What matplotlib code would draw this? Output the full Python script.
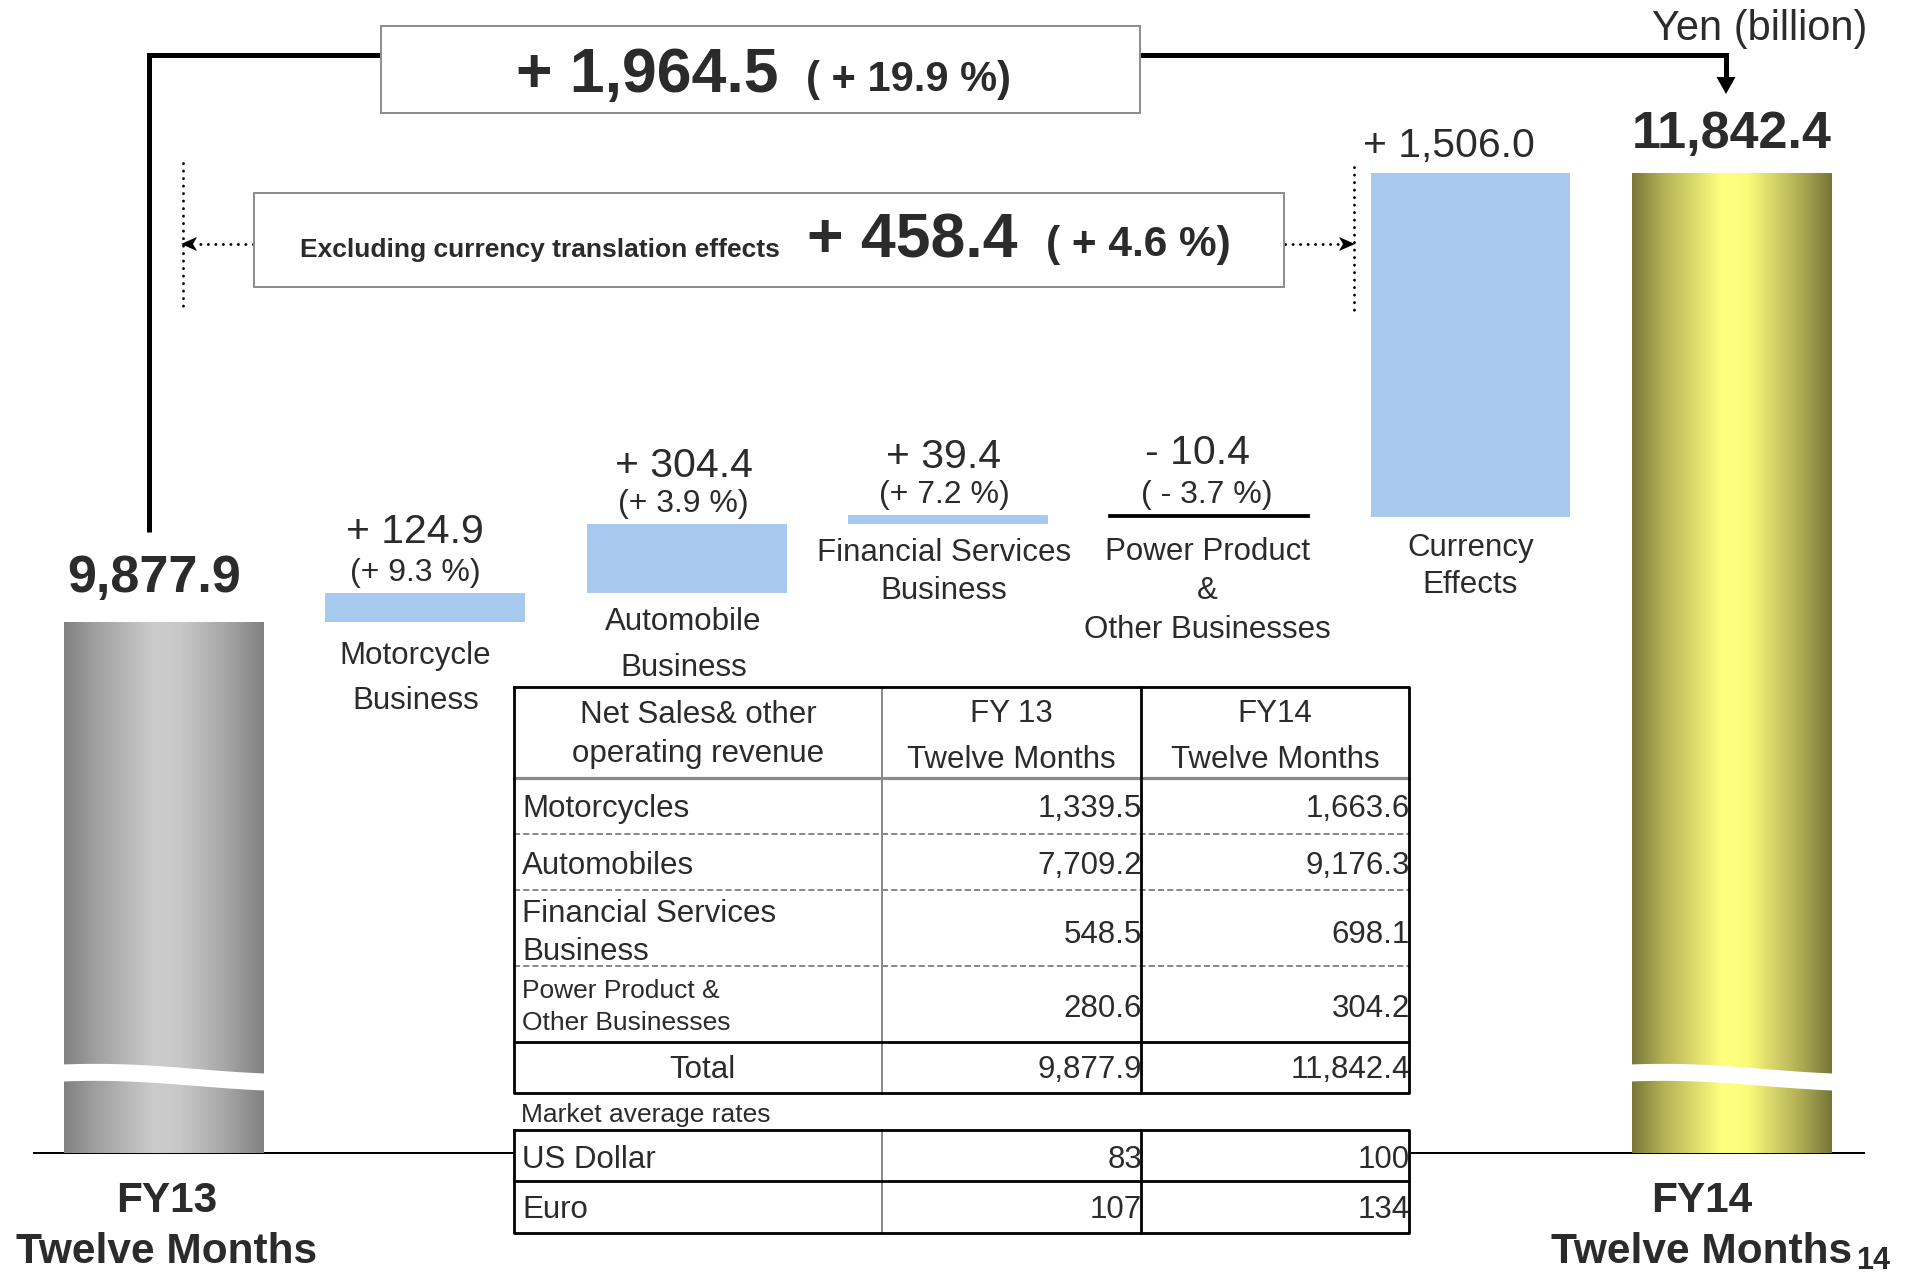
import numpy as np
import matplotlib
matplotlib.use('Agg')
import matplotlib.pyplot as plt
from matplotlib.patches import Rectangle, Polygon

plt.rcParams['font.family'] = ['Liberation Sans', 'DejaVu Sans']

# ---------------- data ----------------
fy13_total = 9877.9
fy14_total = 11842.4
delta_labels = [['Motorcycle', 'Business'],
                ['Automobile', 'Business'],
                ['Financial Services', 'Business'],
                ['Power Product', '&', 'Other Businesses'],
                ['Currency', 'Effects']]
delta_values = [124.9, 304.4, 39.4, -10.4, 1506.0]
delta_pcts = [9.3, 3.9, 7.2, -3.7, None]
total_change = 1964.5
total_change_pct = 19.9
ex_currency_change = 458.4
ex_currency_pct = 4.6

table_header = ['Net Sales& other\noperating revenue', 'FY 13\nTwelve Months', 'FY14\nTwelve Months']
table_segments = ['Motorcycles', 'Automobiles', 'Financial Services\nBusiness',
                  'Power Product &\nOther Businesses']
table_fy13 = [1339.5, 7709.2, 548.5, 280.6]
table_fy14 = [1663.6, 9176.3, 698.1, 304.2]
rate_names = ['US Dollar', 'Euro']
rate_fy13 = [83, 107]
rate_fy14 = [100, 134]

# ---------------- layout / style ----------------
W, H = 1910, 1275
TXT = '#2b2b2b'
BLUE = '#a7c9f0'
BOXEDGE = '#8e8e8e'
PT = 72.0 / 100.0      # points per pixel

BASE_PX = 1152.7       # pixel row of the baseline
PX_PER_B = 0.22855     # pixels per billion yen
AXIS_FLOOR = 7556.0    # value at the (broken) baseline
XC0, XSTEP = 164.0, 261.3
BAR_W = 0.765

fig = plt.figure(figsize=(W / 100, H / 100), dpi=100)
ax = fig.add_axes([0, 0, 1, 1])
ax.set_axis_off()
XLIM = (-XC0 / XSTEP, (W - XC0) / XSTEP)
YLIM = (AXIS_FLOOR - (H - BASE_PX) / PX_PER_B, AXIS_FLOOR + BASE_PX / PX_PER_B)
ax.set_xlim(*XLIM)
ax.set_ylim(*YLIM)


def v2py(v):
    return BASE_PX - (v - AXIS_FLOOR) * PX_PER_B


def py2v(py):
    return AXIS_FLOOR + (BASE_PX - py) / PX_PER_B


def P(x, y):
    return x / W, 1 - y / H


def pline(xs, ys, **kw):
    ax.plot([x / W for x in xs], [1 - y / H for y in ys], transform=ax.transAxes,
            clip_on=False, **kw)


def ptext(x, y, s, **kw):
    kw.setdefault('color', TXT)
    ax.text(x / W, 1 - y / H, s, transform=ax.transAxes, **kw)


def prect(x0, y0, x1, y1, **kw):
    r = Rectangle(P(x0, y1), (x1 - x0) / W, (y1 - y0) / H, transform=ax.transAxes,
                  clip_on=False, **kw)
    ax.add_patch(r)


def ppoly(pts, **kw):
    ax.add_patch(Polygon([P(x, y) for x, y in pts], closed=True, transform=ax.transAxes,
                         clip_on=False, **kw))


def fmt_signed(v):
    return ('+ ' if v >= 0 else '- ') + f'{abs(v):,.1f}'


# ---------------- waterfall bars ----------------
levels = [fy13_total]
for d in delta_values:
    levels.append(levels[-1] + d)
bottoms = levels[:-1]

gray_stops = ([0, 0.15, 0.45, 0.58, 0.82, 1.0],
              [(0x80,) * 3, (0x9e,) * 3, (0xcc,) * 3, (0xc8,) * 3, (0xa4,) * 3, (0x80,) * 3])
yellow_stops = ([0, 0.15, 0.45, 0.58, 0.84, 1.0],
                [(0x78, 0x77, 0x3a), (0xb2, 0xb0, 0x54), (0xff, 0xff, 0x80),
                 (0xfb, 0xfb, 0x7c), (0xb0, 0xae, 0x54), (0x76, 0x75, 0x3a)])


def gradient_fill(patch, stops):
    pos, cols = stops
    xs = np.linspace(0, 1, 400)
    arr = np.stack([np.interp(xs, pos, [c[k] / 255 for c in cols]) for k in range(3)], axis=-1)
    bb = patch.get_bbox()
    ax.imshow(arr[np.newaxis, :, :], extent=(bb.x0, bb.x1, bb.y0, bb.y1), aspect='auto',
              interpolation='bilinear', origin='lower', zorder=2)


def break_band(xc):
    half = BAR_W / 2 + 1 / XSTEP
    t = np.linspace(0, 1, 80)
    xs = xc - half + 2 * half * t
    center = 1077.5 - 4.5 * np.cos(np.pi * t) - 2.5 * np.sin(np.pi * t)
    top = center - 8.5
    bot = center + 8.5
    pts = list(zip(xs, py2v(top))) + list(zip(xs[::-1], py2v(bot[::-1])))
    ax.add_patch(Polygon(pts, closed=True, fc='white', ec='none', zorder=3))


for xi, total, stops in [(0, fy13_total, gray_stops), (6, fy14_total, yellow_stops)]:
    bar = ax.bar(xi, total - AXIS_FLOOR, bottom=AXIS_FLOOR, width=BAR_W,
                 facecolor='none', edgecolor='none', zorder=2)[0]
    gradient_fill(bar, stops)
    break_band(xi)

for i, (b, d) in enumerate(zip(bottoms, delta_values)):
    if d >= 0:
        ax.bar(i + 1, d, bottom=b, width=BAR_W, color=BLUE, edgecolor='none', zorder=2)
    else:
        ax.bar(i + 1, d, bottom=b, width=BAR_W, color='black', edgecolor='black',
               linewidth=1.3, zorder=2)

ax.set_xlim(*XLIM)
ax.set_ylim(*YLIM)

# baseline
ax.axhline(AXIS_FLOOR, xmin=34 / W, xmax=1864 / W, color='black', lw=2 * PT, zorder=1)

# labels of delta bars
value_off = [50, 47, 47, 51, 16]
pct_off = 12
label_first = [42, 37, 37, 43, 39]
label_step = [45, 46, 38, 39, 37]
label_nudge = [-10, -3, -4, -2, 0]
for i, (b, d) in enumerate(zip(bottoms, delta_values)):
    xc = i + 1 + label_nudge[i] / XSTEP
    top_py = v2py(max(b, b + d))
    bot_py = v2py(min(b, b + d))
    vx = xc - (22 / XSTEP if i == 4 else 0) - (10 / XSTEP if i == 3 else 0)
    ax.text(vx, py2v(top_py - value_off[i]), fmt_signed(d), ha='center', va='baseline',
            fontsize=29.5, color=TXT)
    p = delta_pcts[i]
    if p is not None:
        ps = f'(+ {p:.1f} %)' if p >= 0 else f'( - {abs(p):.1f} %)'
        ax.text(xc, py2v(top_py - pct_off), ps, ha='center', va='baseline', fontsize=23,
                color=TXT)
    for k, line in enumerate(delta_labels[i]):
        ax.text(xc, py2v(bot_py + label_first[i] + k * label_step[i]), line, ha='center',
                va='baseline', fontsize=22.5, color=TXT)

# total labels
ax.text(0 - 10 / XSTEP, py2v(v2py(fy13_total) - 30), f'{fy13_total:,.1f}', ha='center',
        va='baseline', fontsize=37.5, fontweight='bold', color=TXT)
ax.text(6, py2v(v2py(fy14_total) - 25), f'{fy14_total:,.1f}', ha='center',
        va='baseline', fontsize=37.5, fontweight='bold', color=TXT)
for xc, name in [(0 + 3 / XSTEP, 'FY13'), (6 - 30 / XSTEP, 'FY14')]:
    ax.text(xc, py2v(BASE_PX + 59), name, ha='center', va='baseline', fontsize=30.5,
            fontweight='bold', color=TXT)
    ax.text(xc, py2v(BASE_PX + 110), 'Twelve Months', ha='center', va='baseline',
            fontsize=30.5, fontweight='bold', color=TXT)
ptext(1856, 1269, '14', ha='left', va='baseline', fontsize=22, fontweight='bold')

# unit
ptext(1652, 40, 'Yen (billion)', ha='left', va='baseline', fontsize=30)

# ---------------- top bracket ----------------
pline([148.6, 148.6, 1726, 1726], [532, 55, 55, 80], color='black', lw=5 * PT,
      solid_joinstyle='miter', solid_capstyle='butt', zorder=4)
ppoly([(1716.5, 77), (1735.5, 77), (1726, 94)], fc='black', ec='none', zorder=4)
prect(381, 26, 1140, 113, fc='white', ec=BOXEDGE, lw=2 * PT, zorder=5)
ptext(516, 92, f'+ {total_change:,.1f}', ha='left', va='baseline', fontsize=45,
      fontweight='bold', zorder=6)
ptext(806, 91, f'( + {total_change_pct:.1f} %)', ha='left', va='baseline', fontsize=30,
      fontweight='bold', zorder=6)

# ---------------- excluding currency box ----------------
dot = dict(color='black', lw=2.0, linestyle=(0, (0.1, 2.6)), dash_capstyle='round', zorder=4)
pline([183, 183], [163, 310], **dot)
pline([253, 196], [244, 244], **dot)
ppoly([(181, 244), (197, 237), (193, 244), (197, 251)], fc='black', ec='none', zorder=4)
pline([1354, 1354], [167, 315], **dot)
pline([1285, 1341], [244, 244], **dot)
ppoly([(1355, 244), (1339, 237), (1343, 244), (1339, 251)], fc='black', ec='none', zorder=4)
prect(253.6, 193, 1284, 287, fc='white', ec=BOXEDGE, lw=2 * PT, zorder=5)
ptext(300, 257, 'Excluding currency translation effects', ha='left', va='baseline',
      fontsize=19, fontweight='bold', zorder=6)
ptext(807, 257, f'+ {ex_currency_change:.1f}', ha='left', va='baseline', fontsize=45,
      fontweight='bold', zorder=6)
ptext(1046, 256, f'( + {ex_currency_pct:.1f} %)', ha='left', va='baseline', fontsize=30.5,
      fontweight='bold', zorder=6)

# ---------------- table ----------------
TL, C1, C2, TR = 514, 882, 1141, 1409
T_TOP, T_HDR, T_BOT = 687, 778, 1093
row_lines = [834, 890, 966]
T_TOTAL = 1042
R_TOP, R_MID, R_BOT = 1130, 1181, 1233
BLK = dict(color='black', lw=2.8 * PT, solid_capstyle='projecting', zorder=8)
GRY = dict(color='#8a8a8a', lw=2 * PT, zorder=7)

prect(TL, T_TOP, TR, T_BOT, fc='white', ec='none', zorder=6)
prect(TL, R_TOP, TR, R_BOT, fc='white', ec='none', zorder=6)

# table 1 grid
pline([TL, TR], [T_HDR, T_HDR], color='#8a8a8a', lw=3.2 * PT, zorder=7)
for y in row_lines:
    pline([TL, TR], [y, y], color='#8a8a8a', lw=2 * PT, linestyle=(0, (3.0, 1.6)), zorder=7)
pline([C1, C1], [T_TOP, T_BOT], **GRY)
pline([C2, C2], [T_TOP, T_BOT], **BLK)
pline([TL, TR], [T_TOTAL, T_TOTAL], **BLK)
pline([TL, TR, TR, TL, TL], [T_TOP, T_TOP, T_BOT, T_BOT, T_TOP], **BLK)
# table 2 grid
pline([C1, C1], [R_TOP, R_BOT], **GRY)
pline([C2, C2], [R_TOP, R_BOT], **BLK)
pline([TL, TR], [R_MID, R_MID], **BLK)
pline([TL, TR, TR, TL, TL], [R_TOP, R_TOP, R_BOT, R_BOT, R_TOP], **BLK)

TFS = 22.5
hdr_x = [(TL + C1) / 2, (C1 + C2) / 2, (C2 + TR) / 2]
hdr_base = [(723, 762), (722, 768), (722, 768)]
for hx, hb, htxt in zip(hdr_x, hdr_base, table_header):
    l1, l2 = htxt.split('\n')
    ptext(hx, hb[0], l1, ha='center', va='baseline', fontsize=TFS, zorder=9)
    ptext(hx, hb[1], l2, ha='center', va='baseline', fontsize=TFS, zorder=9)

seg_bases = [[817], [874], [922, 960], [998, 1030]]
seg_fs = [TFS, TFS, TFS, 19]
val_bases = [817, 874, 943, 1017]
for name, lb, fs, vb, a, b in zip(table_segments, seg_bases, seg_fs, val_bases,
                                   table_fy13, table_fy14):
    for line, yb in zip(name.split('\n'), lb):
        ptext(522, yb, line, ha='left', va='baseline', fontsize=fs, zorder=9)
    ptext(C2 + 1, vb, f'{a:,.1f}', ha='right', va='baseline', fontsize=TFS, zorder=9)
    ptext(TR + 1, vb, f'{b:,.1f}', ha='right', va='baseline', fontsize=TFS, zorder=9)

ptext(hdr_x[0] + 4, 1078, 'Total', ha='center', va='baseline', fontsize=TFS, zorder=9)
ptext(C2 + 1, 1078, f'{fy13_total:,.1f}', ha='right', va='baseline', fontsize=TFS, zorder=9)
ptext(TR + 1, 1078, f'{fy14_total:,.1f}', ha='right', va='baseline', fontsize=TFS, zorder=9)

ptext(521, 1122, 'Market average rates', ha='left', va='baseline', fontsize=19, zorder=9)
for name, yb, a, b in zip(rate_names, [1168, 1218], rate_fy13, rate_fy14):
    ptext(522, yb, name, ha='left', va='baseline', fontsize=TFS, zorder=9)
    ptext(C2 + 1, yb, f'{a}', ha='right', va='baseline', fontsize=TFS, zorder=9)
    ptext(TR + 1, yb, f'{b}', ha='right', va='baseline', fontsize=TFS, zorder=9)

fig.savefig('out.png', dpi=100, facecolor='white')
